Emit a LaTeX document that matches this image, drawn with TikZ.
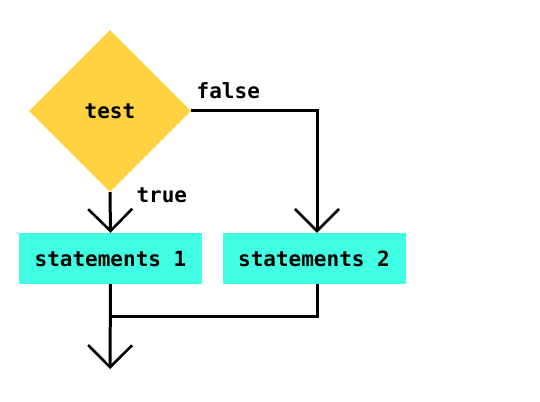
\documentclass[tikz,border=0pt]{standalone}
\usepackage{fontspec}
\newfontfamily\codefont{DejaVu Sans Mono}
\usetikzlibrary{positioning,shapes.geometric,arrows.meta}
\definecolor{testyellow}{HTML}{FFD23F}
\definecolor{stcyan}{HTML}{40FFE3}
\tikzset{
  cn/.style={diamond, minimum size=162pt, inner sep=0pt, text centered, fill=testyellow, font=\codefont\bfseries\fontsize{21}{24}\selectfont},
  st/.style={rectangle, minimum width=183pt, minimum height=51pt, inner sep=0pt, text centered, fill=stcyan, font=\codefont\bfseries\fontsize{21}{24}\selectfont},
  lbl/.style={inner sep=0pt, font=\codefont\bfseries\fontsize{21}{24}\selectfont},
  flow/.style={line width=3pt, -{Straight Barb[length=22pt, width=44pt, line width=2.6pt]}},
  mergeline/.style={line width=3pt}
}
\begin{document}
\begin{tikzpicture}[x=1pt, y=-1pt]
	\useasboundingbox (0,0) rectangle (540,401);
	\node[cn] (test) at (110,111) {test};
	\node[st] (st1) at (110.5,258.5) {statements 1};
	\node[st] (st2) at (314,258.5) {statements 2};
	\coordinate (in2) at ([xshift=3pt]st2.north);
	\coordinate (out2) at ([xshift=3pt]st2.south);
	\coordinate (out) at (110,369);
	\coordinate (merge) at (110,316);
	%
	\draw[flow] (test.south) -- node[lbl, pos=0, anchor=base west, xshift=25pt, yshift=-10pt] {true} (st1.north);
	\draw[flow] (test.east) -| node[lbl, pos=0, anchor=base west, xshift=4pt, yshift=12pt] {false} (in2);
	\draw[flow] (st1.south) -- (out);
	\draw[mergeline] (out2) |- (merge);
\end{tikzpicture}
\end{document}
